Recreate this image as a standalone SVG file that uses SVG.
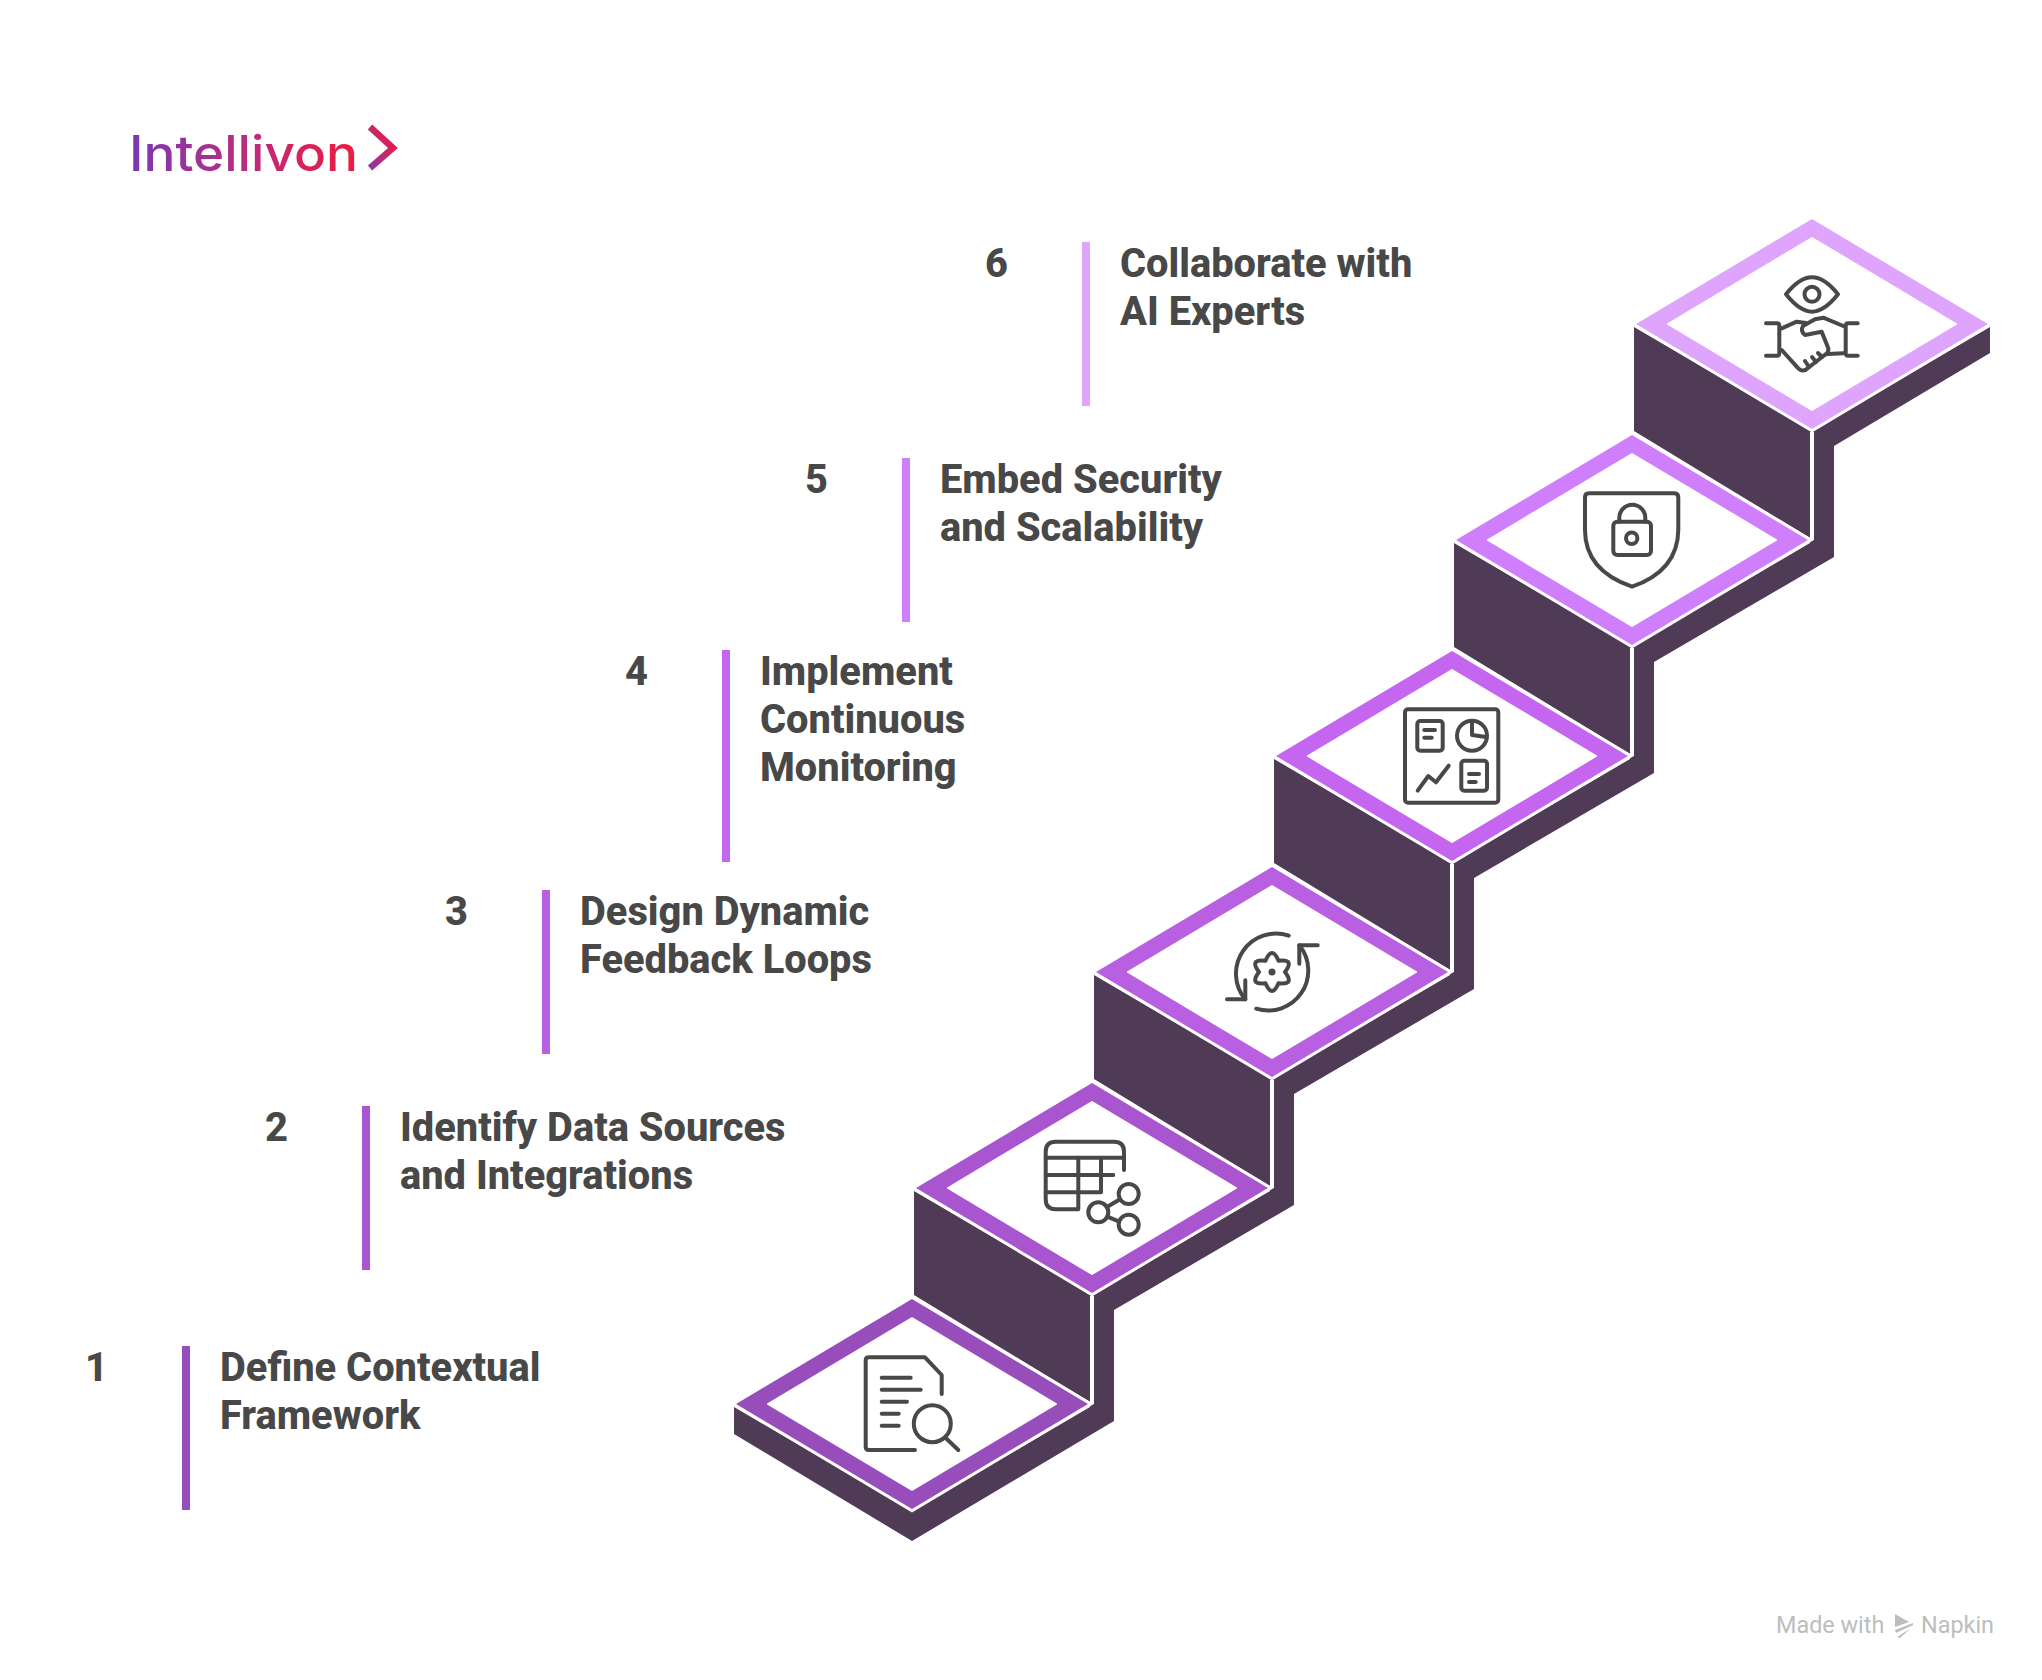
<svg xmlns="http://www.w3.org/2000/svg" width="2042" height="1680" viewBox="0 0 2042 1680">
<style>
.body{fill:#4f3b55}
.vl{stroke:#fff;stroke-width:4;fill:none}
.outer{stroke:#fff;stroke-width:6;paint-order:stroke;stroke-linejoin:miter}
.inner{fill:#fff;stroke:#fff;stroke-width:2;stroke-linejoin:round}
.ic{fill:none;stroke:#484848;stroke-width:4;stroke-linecap:round;stroke-linejoin:round}
.t{font-family:Roboto,"Liberation Sans",sans-serif;font-weight:800;font-size:39.8px;fill:#484848}
.wm{font-family:Roboto,"Open Sans",sans-serif;font-size:23.4px;fill:#bdbdbd}
.s1{fill:#974dba}.s2{fill:#a955d0}.s3{fill:#b85fe2}.s4{fill:#c566f0}.s5{fill:#d07ffc}.s6{fill:#dfa4fb}
</style>
<defs>
<linearGradient id="lg" gradientUnits="userSpaceOnUse" x1="132" y1="150" x2="356" y2="150"><stop offset="0" stop-color="#7b38b2"/><stop offset="0.5" stop-color="#b92c80"/><stop offset="1" stop-color="#ee1b3e"/></linearGradient>
<linearGradient id="lc" gradientUnits="userSpaceOnUse" x1="368" y1="168" x2="396" y2="148"><stop offset="0" stop-color="#8a38aa"/><stop offset="1" stop-color="#e01f4e"/></linearGradient>
<polygon id="mid" points="-178,3 -178,107 -2,214 22,200 22,122 202,17 202,-94 180,-108 178,-108 178,3 0,107"/>
<polygon id="dia" points="0,-105 176,0 0,105 -176,0"/>
<polygon id="ins" points="0,-86 144,0 0,86 -144,0"/>
</defs>
<g id="logo">
<text x="129" y="171" font-family="Inter,'Noto Sans',sans-serif" font-size="49" font-weight="500" fill="url(#lg)" textLength="229" lengthAdjust="spacingAndGlyphs">Intellivon</text>
<polyline points="370,127 393,148 370,168" fill="none" stroke="url(#lc)" stroke-width="6.5"/>
</g>
<g id="step-6">
<g transform="translate(1812,324)">
<polygon class="body" points="-178,3 -178,107 -2,214 22,200 22,122 178,29 178,3 0,107"/>
<use href="#dia" class="outer s6"/><use href="#ins" class="inner"/>
</g>
<rect class="s6" x="1082" y="242" width="8" height="164"/>
<text class="t" x="985" y="276.5">6</text>
<text class="t" x="1120" y="276.5">Collaborate with</text>
<text class="t" x="1120" y="324.5">AI Experts</text>
<g class="ic">
<path d="M1786,294.3C1795,283 1803,277.3 1812,277.3C1821,277.3 1829,283 1838,294.3C1829,305.6 1821,311.7 1812,311.7C1803,311.7 1795,305.6 1786,294.3Z"/>
<circle cx="1812" cy="294.3" r="7.5"/>
<path d="M1766,323.3H1777Q1779.3,323.3 1779.3,326V353Q1779.3,355.7 1777,355.7H1766"/>
<path d="M1857.7,323.3H1848Q1845.7,323.3 1845.7,326V353Q1845.7,355.7 1848,355.7H1857.7"/>
<path d="M1781.7,328.3L1796.7,321.7L1806,323"/>
<path d="M1843.3,326L1823.3,317.7L1815,319.3L1803,326Q1800,331 1805,335L1821.7,331.7L1828.3,348.3Q1829,353 1824,355.5L1808,368Q1803,373 1798.3,368.3L1781.7,350"/>
<path d="M1828,354L1843.3,353.3"/>
<path d="M1805,361L1809,367M1812,357L1816,362M1818,353L1822,357"/>
</g>
</g>
<g id="step-5">
<g transform="translate(1632,540)">
<use href="#mid" class="body"/>
<line class="vl" x1="180" y1="-108" x2="180" y2="0"/>
<use href="#dia" class="outer s5"/><use href="#ins" class="inner"/>
</g>
<rect class="s5" x="902" y="458" width="8" height="164"/>
<text class="t" x="805" y="492.5">5</text>
<text class="t" x="940" y="492.5">Embed Security</text>
<text class="t" x="940" y="540.5">and Scalability</text>
<g class="ic">
<path d="M1589,493.3H1674Q1678.3,493.3 1678.3,497.5V530C1678,560 1660,577 1632,586.7C1604,577 1585,560 1585,530V497.5Q1585,493.3 1589,493.3Z"/>
<rect x="1613.3" y="521.7" width="37.7" height="33.3" rx="4"/>
<path d="M1619.3,521.7V518A12.7,13 0 0 1 1645.3,518V521.7"/>
<circle cx="1631.7" cy="538.3" r="5.7"/>
</g>
</g>
<g id="step-4">
<g transform="translate(1452,756)">
<use href="#mid" class="body"/>
<line class="vl" x1="180" y1="-108" x2="180" y2="0"/>
<use href="#dia" class="outer s4"/><use href="#ins" class="inner"/>
</g>
<rect class="s4" x="722" y="650" width="8" height="212"/>
<text class="t" x="625" y="684.5">4</text>
<text class="t" x="760" y="684.5">Implement</text>
<text class="t" x="760" y="732.5">Continuous</text>
<text class="t" x="760" y="780.5">Monitoring</text>
<g class="ic">
<rect x="1405" y="709.3" width="93.3" height="93.4" rx="3"/>
<rect x="1417.3" y="721" width="25.4" height="29.7" rx="3"/>
<path d="M1424.3,730H1435M1424.3,737.7H1431.7"/>
<circle cx="1472" cy="735.7" r="15"/>
<path d="M1472,722V735L1486,737"/>
<rect x="1461.3" y="760.7" width="25.7" height="30" rx="3"/>
<path d="M1469,774H1479M1469,782H1475.7"/>
<path d="M1417.7,790.7L1428.3,776L1436,782.3L1448.7,765.7"/>
</g>
</g>
<g id="step-3">
<g transform="translate(1272,972)">
<use href="#mid" class="body"/>
<line class="vl" x1="180" y1="-108" x2="180" y2="0"/>
<use href="#dia" class="outer s3"/><use href="#ins" class="inner"/>
</g>
<rect class="s3" x="542" y="890" width="8" height="164"/>
<text class="t" x="445" y="924.5">3</text>
<text class="t" x="580" y="924.5">Design Dynamic</text>
<text class="t" x="580" y="972.5">Feedback Loops</text>
<g class="ic">
<path d="M1288.7,935.7A40,40 0 0 0 1245.3,999.3"/>
<path d="M1256.3,1008.7A40,40 0 0 0 1299.3,945.3"/>
<path d="M1245.3,980.3V999.3H1227"/>
<path d="M1299.3,963.7V945.3H1317.7"/>
<path d="M1265.5,960.74Q1272,945.3 1278.5,960.74Q1295.1,958.65 1285,972Q1295.1,985.35 1278.5,983.26Q1272,998.7 1265.5,983.26Q1248.9,985.35 1259,972Q1248.9,958.65 1265.5,960.74Z"/>
</g>
<circle cx="1272" cy="972" r="3.5" fill="#484848"/>
</g>
<g id="step-2">
<g transform="translate(1092,1188)">
<use href="#mid" class="body"/>
<line class="vl" x1="180" y1="-108" x2="180" y2="0"/>
<use href="#dia" class="outer s2"/><use href="#ins" class="inner"/>
</g>
<rect class="s2" x="362" y="1106" width="8" height="164"/>
<text class="t" x="265" y="1140.5">2</text>
<text class="t" x="400" y="1140.5">Identify Data Sources</text>
<text class="t" x="400" y="1188.5">and Integrations</text>
<g class="ic">
<path d="M1124,1170V1151.7Q1124,1141.7 1114,1141.7H1055.7Q1045.7,1141.7 1045.7,1151.7V1199.3Q1045.7,1209.3 1055.7,1209.3H1078.3V1157.7"/>
<path d="M1045.7,1157.7H1124M1045.7,1175H1113.3M1045.7,1192.3H1101V1157.7"/>
<circle cx="1128.7" cy="1194" r="10"/>
<circle cx="1098.3" cy="1212.3" r="10"/>
<circle cx="1128.7" cy="1224.7" r="10"/>
<path d="M1107.3,1206.7L1120,1199.3M1107.3,1216.7L1119.3,1221.7"/>
</g>
</g>
<g id="step-1">
<g transform="translate(912,1404)">
<polygon class="body" points="-178,3 -178,30 0,137 202,17 202,-94 180,-108 178,-108 178,3 0,107"/>
<line class="vl" x1="180" y1="-108" x2="180" y2="0"/>
<use href="#dia" class="outer s1"/><use href="#ins" class="inner"/>
</g>
<rect class="s1" x="182" y="1346" width="8" height="164"/>
<text class="t" x="85" y="1380.5">1</text>
<text class="t" x="220" y="1380.5">Define Contextual</text>
<text class="t" x="220" y="1428.5">Framework</text>
<g class="ic">
<path d="M915,1450H869Q865.7,1450 865.7,1447V1360.3Q865.7,1357.3 869,1357.3H925L941.7,1375V1394"/>
<path d="M881.7,1377.7H910.7M881.7,1389.7H920.7M881.7,1401.7H907M881.7,1413.7H898.7M881.7,1425.7H898.7"/>
<circle cx="932.3" cy="1423.7" r="18.5"/>
<path d="M946,1438.3L958.3,1450"/>
</g>
</g>
<g id="watermark">
<text class="wm" x="1776" y="1632.5">Made with</text>
<text class="wm" x="1921" y="1632.5">Napkin</text>
<path d="M1895,1614L1909,1622L1895,1627ZM1895,1630L1913,1623L1913,1625L1896,1633ZM1897,1637L1911,1628L1900,1638Z" fill="#bdbdbd"/>
</g>
</svg>
